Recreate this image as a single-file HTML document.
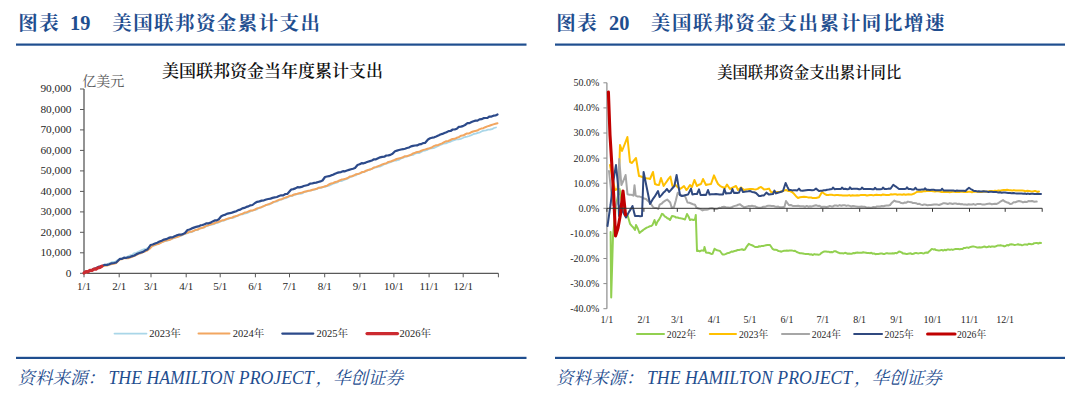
<!DOCTYPE html>
<html lang="zh"><head><meta charset="utf-8"><title>图表</title>
<style>html,body{margin:0;padding:0;background:#fff;width:1080px;height:401px;overflow:hidden}</style>
</head><body>
<svg width="1080" height="401" viewBox="0 0 1080 401" style="position:absolute;left:0;top:0">
<rect width="1080" height="401" fill="#fff"/>
<text x="18.3" y="30" font-family='"Liberation Serif","Noto Serif CJK SC",serif' font-weight="700" font-size="19.5" fill="#1f4e8f" letter-spacing="1.4">图表</text>
<text x="70.0" y="30.3" font-family='"Liberation Serif","Noto Serif CJK SC",serif' font-weight="700" font-size="20.4" fill="#1f4e8f">19</text>
<text x="112.3" y="30" font-family='"Liberation Serif","Noto Serif CJK SC",serif' font-weight="700" font-size="19.5" fill="#1f4e8f" letter-spacing="1.4">美国联邦资金累计支出</text>
<rect x="16" y="43.5" width="510.5" height="2.2" fill="#1f4e8f"/>
<rect x="16" y="356.8" width="510.5" height="2.2" fill="#1f4e8f"/>
<text x="556.2" y="30" font-family='"Liberation Serif","Noto Serif CJK SC",serif' font-weight="700" font-size="19.5" fill="#1f4e8f" letter-spacing="1.6">图表</text>
<text x="609" y="30.3" font-family='"Liberation Serif","Noto Serif CJK SC",serif' font-weight="700" font-size="20.4" fill="#1f4e8f">20</text>
<text x="650.8" y="30" font-family='"Liberation Serif","Noto Serif CJK SC",serif' font-weight="700" font-size="19.5" fill="#1f4e8f" letter-spacing="1.6">美国联邦资金支出累计同比增速</text>
<rect x="555" y="43.5" width="510" height="2.2" fill="#1f4e8f"/>
<rect x="555" y="356.8" width="510" height="2.2" fill="#1f4e8f"/>
<text x="17.5" y="384" font-family='"Liberation Serif","Noto Serif CJK SC",serif' font-style="italic" font-size="17.5" fill="#1f4e8f">资料来源：</text>
<text transform="translate(108.5,384) scale(1,1.09)" font-family='"Liberation Serif","Noto Serif CJK SC",serif' font-style="italic" font-size="17.75" fill="#1f4e8f">THE HAMILTON PROJECT</text>
<text x="315.4" y="384" font-family='"Liberation Serif","Noto Serif CJK SC",serif' font-style="italic" font-size="17.5" fill="#1f4e8f">，华创证券</text>
<text x="556.0" y="384" font-family='"Liberation Serif","Noto Serif CJK SC",serif' font-style="italic" font-size="17.5" fill="#1f4e8f">资料来源：</text>
<text transform="translate(647.0,384) scale(1,1.09)" font-family='"Liberation Serif","Noto Serif CJK SC",serif' font-style="italic" font-size="17.75" fill="#1f4e8f">THE HAMILTON PROJECT</text>
<text x="853.9" y="384" font-family='"Liberation Serif","Noto Serif CJK SC",serif' font-style="italic" font-size="17.5" fill="#1f4e8f">，华创证券</text>
<text x="272.5" y="77" text-anchor="middle" font-family='"Liberation Serif","Noto Serif CJK SC",serif' font-weight="600" font-size="17" fill="#111">美国联邦资金当年度累计支出</text>
<text x="82.3" y="86" font-family='"Liberation Serif","Noto Serif CJK SC",serif' font-size="14" fill="#595959">亿美元</text>
<line x1="84.0" y1="88.98000000000002" x2="84.0" y2="273.3" stroke="#595959" stroke-width="1.3"/>
<line x1="84.0" y1="273.3" x2="498.4" y2="273.3" stroke="#595959" stroke-width="1.3"/>
<line x1="80.0" y1="273.3" x2="84.0" y2="273.3" stroke="#595959" stroke-width="1"/>
<text x="71.5" y="276.6" text-anchor="end" font-family='"Liberation Serif","Noto Serif CJK SC",serif' font-size="11.3" fill="#262626">0</text>
<line x1="80.0" y1="252.8" x2="84.0" y2="252.8" stroke="#595959" stroke-width="1"/>
<text x="71.5" y="256.1" text-anchor="end" font-family='"Liberation Serif","Noto Serif CJK SC",serif' font-size="11.3" fill="#262626">10,000</text>
<line x1="80.0" y1="232.3" x2="84.0" y2="232.3" stroke="#595959" stroke-width="1"/>
<text x="71.5" y="235.6" text-anchor="end" font-family='"Liberation Serif","Noto Serif CJK SC",serif' font-size="11.3" fill="#262626">20,000</text>
<line x1="80.0" y1="211.9" x2="84.0" y2="211.9" stroke="#595959" stroke-width="1"/>
<text x="71.5" y="215.2" text-anchor="end" font-family='"Liberation Serif","Noto Serif CJK SC",serif' font-size="11.3" fill="#262626">30,000</text>
<line x1="80.0" y1="191.4" x2="84.0" y2="191.4" stroke="#595959" stroke-width="1"/>
<text x="71.5" y="194.7" text-anchor="end" font-family='"Liberation Serif","Noto Serif CJK SC",serif' font-size="11.3" fill="#262626">40,000</text>
<line x1="80.0" y1="170.9" x2="84.0" y2="170.9" stroke="#595959" stroke-width="1"/>
<text x="71.5" y="174.2" text-anchor="end" font-family='"Liberation Serif","Noto Serif CJK SC",serif' font-size="11.3" fill="#262626">50,000</text>
<line x1="80.0" y1="150.4" x2="84.0" y2="150.4" stroke="#595959" stroke-width="1"/>
<text x="71.5" y="153.7" text-anchor="end" font-family='"Liberation Serif","Noto Serif CJK SC",serif' font-size="11.3" fill="#262626">60,000</text>
<line x1="80.0" y1="129.9" x2="84.0" y2="129.9" stroke="#595959" stroke-width="1"/>
<text x="71.5" y="133.2" text-anchor="end" font-family='"Liberation Serif","Noto Serif CJK SC",serif' font-size="11.3" fill="#262626">70,000</text>
<line x1="80.0" y1="109.5" x2="84.0" y2="109.5" stroke="#595959" stroke-width="1"/>
<text x="71.5" y="112.8" text-anchor="end" font-family='"Liberation Serif","Noto Serif CJK SC",serif' font-size="11.3" fill="#262626">80,000</text>
<line x1="80.0" y1="89.0" x2="84.0" y2="89.0" stroke="#595959" stroke-width="1"/>
<text x="71.5" y="92.3" text-anchor="end" font-family='"Liberation Serif","Noto Serif CJK SC",serif' font-size="11.3" fill="#262626">90,000</text>
<line x1="84.0" y1="273.3" x2="84.0" y2="277.3" stroke="#595959" stroke-width="1"/>
<text x="84.0" y="290.2" text-anchor="middle" font-family='"Liberation Serif","Noto Serif CJK SC",serif' font-size="11" fill="#262626">1/1</text>
<line x1="119.2" y1="273.3" x2="119.2" y2="277.3" stroke="#595959" stroke-width="1"/>
<text x="119.2" y="290.2" text-anchor="middle" font-family='"Liberation Serif","Noto Serif CJK SC",serif' font-size="11" fill="#262626">2/1</text>
<line x1="151.0" y1="273.3" x2="151.0" y2="277.3" stroke="#595959" stroke-width="1"/>
<text x="151.0" y="290.2" text-anchor="middle" font-family='"Liberation Serif","Noto Serif CJK SC",serif' font-size="11" fill="#262626">3/1</text>
<line x1="186.2" y1="273.3" x2="186.2" y2="277.3" stroke="#595959" stroke-width="1"/>
<text x="186.2" y="290.2" text-anchor="middle" font-family='"Liberation Serif","Noto Serif CJK SC",serif' font-size="11" fill="#262626">4/1</text>
<line x1="220.2" y1="273.3" x2="220.2" y2="277.3" stroke="#595959" stroke-width="1"/>
<text x="220.2" y="290.2" text-anchor="middle" font-family='"Liberation Serif","Noto Serif CJK SC",serif' font-size="11" fill="#262626">5/1</text>
<line x1="255.4" y1="273.3" x2="255.4" y2="277.3" stroke="#595959" stroke-width="1"/>
<text x="255.4" y="290.2" text-anchor="middle" font-family='"Liberation Serif","Noto Serif CJK SC",serif' font-size="11" fill="#262626">6/1</text>
<line x1="289.5" y1="273.3" x2="289.5" y2="277.3" stroke="#595959" stroke-width="1"/>
<text x="289.5" y="290.2" text-anchor="middle" font-family='"Liberation Serif","Noto Serif CJK SC",serif' font-size="11" fill="#262626">7/1</text>
<line x1="324.7" y1="273.3" x2="324.7" y2="277.3" stroke="#595959" stroke-width="1"/>
<text x="324.7" y="290.2" text-anchor="middle" font-family='"Liberation Serif","Noto Serif CJK SC",serif' font-size="11" fill="#262626">8/1</text>
<line x1="359.9" y1="273.3" x2="359.9" y2="277.3" stroke="#595959" stroke-width="1"/>
<text x="359.9" y="290.2" text-anchor="middle" font-family='"Liberation Serif","Noto Serif CJK SC",serif' font-size="11" fill="#262626">9/1</text>
<line x1="393.9" y1="273.3" x2="393.9" y2="277.3" stroke="#595959" stroke-width="1"/>
<text x="393.9" y="290.2" text-anchor="middle" font-family='"Liberation Serif","Noto Serif CJK SC",serif' font-size="11" fill="#262626">10/1</text>
<line x1="429.1" y1="273.3" x2="429.1" y2="277.3" stroke="#595959" stroke-width="1"/>
<text x="429.1" y="290.2" text-anchor="middle" font-family='"Liberation Serif","Noto Serif CJK SC",serif' font-size="11" fill="#262626">11/1</text>
<line x1="463.2" y1="273.3" x2="463.2" y2="277.3" stroke="#595959" stroke-width="1"/>
<text x="463.2" y="290.2" text-anchor="middle" font-family='"Liberation Serif","Noto Serif CJK SC",serif' font-size="11" fill="#262626">12/1</text>
<line x1="498.4" y1="273.3" x2="498.4" y2="277.3" stroke="#595959" stroke-width="1"/>
<polyline points="84.0,273.0 86.1,272.1 88.1,271.2 90.2,271.0 92.2,269.6 94.3,269.4 96.3,268.5 98.4,267.4 100.4,267.1 102.5,266.4 104.7,265.1 106.9,264.6 109.1,263.4 111.2,262.5 113.4,262.0 115.6,261.6 117.8,260.0 120.0,259.5 122.0,258.4 124.1,257.9 126.1,257.4 128.1,256.2 130.2,255.2 132.2,254.9 134.2,253.1 136.2,253.1 138.3,251.7 140.3,250.7 142.3,249.8 144.4,249.2 146.4,248.8 148.4,247.4 150.5,246.9 152.5,246.0 154.6,245.4 156.6,244.4 158.7,243.8 160.7,242.5 162.8,241.8 164.9,241.2 166.9,240.9 169.0,239.9 171.0,239.0 173.1,238.5 175.1,237.6 177.2,236.7 179.3,236.4 181.3,235.6 183.4,234.4 185.4,233.9 187.5,233.1 189.5,232.4 191.6,232.1 193.6,231.2 195.6,230.0 197.7,230.0 199.7,228.4 201.7,228.0 203.8,227.7 205.8,226.3 207.8,226.0 209.8,224.8 211.9,224.7 213.9,224.1 215.9,223.2 218.0,222.8 220.0,221.7 222.1,220.8 224.1,220.5 226.2,219.7 228.2,219.0 230.3,218.2 232.4,217.9 234.4,217.3 236.5,216.1 238.5,215.6 240.6,214.3 242.6,214.3 244.7,213.5 246.8,213.2 248.8,212.3 250.9,211.1 252.9,210.5 255.0,209.9 257.1,209.3 259.1,207.8 261.2,207.4 263.2,206.3 265.3,205.5 267.4,204.6 269.4,204.5 271.5,203.1 273.5,202.4 275.6,201.7 277.6,201.4 279.7,199.8 281.8,199.4 283.8,198.7 285.9,198.2 287.9,197.3 290.0,196.2 292.1,196.0 294.1,194.9 296.2,194.5 298.2,193.8 300.3,193.8 302.4,193.3 304.4,192.0 306.5,191.5 308.5,191.0 310.6,190.4 312.6,190.1 314.7,189.7 316.8,188.8 318.8,188.0 320.9,187.8 322.9,187.2 325.0,186.8 327.0,186.1 329.1,185.7 331.1,184.7 333.2,183.7 335.2,183.1 337.3,182.4 339.3,181.0 341.4,181.1 343.4,180.2 345.5,179.5 347.5,178.7 349.5,177.5 351.6,176.7 353.6,175.7 355.7,175.4 357.7,174.1 359.8,173.3 361.8,172.7 363.9,171.9 365.9,171.3 368.0,170.3 370.0,169.4 372.0,168.8 374.1,168.0 376.1,167.5 378.2,166.4 380.2,166.5 382.3,165.4 384.3,164.2 386.4,163.6 388.4,162.9 390.5,162.1 392.5,161.5 394.6,160.4 396.6,160.5 398.7,159.9 400.7,158.7 402.8,158.0 404.9,157.0 406.9,156.3 409.0,155.8 411.0,155.1 413.1,154.9 415.1,153.6 417.2,152.8 419.3,153.0 421.3,151.9 423.4,150.8 425.4,150.5 427.5,149.8 429.5,148.6 431.6,148.3 433.6,148.1 435.7,147.2 437.7,146.3 439.8,145.1 441.8,144.5 443.8,143.5 445.9,143.4 447.9,142.4 450.0,141.9 452.0,140.9 454.2,140.1 456.3,139.3 458.5,139.3 460.7,138.8 462.8,138.0 465.0,137.0 467.1,136.6 469.3,136.0 471.4,135.2 473.6,134.0 475.7,133.7 477.9,132.8 480.0,132.3 482.0,131.2 484.0,130.6 486.0,130.3 488.0,129.7 490.0,129.5 492.0,129.2 494.0,128.0 496.0,127.5" fill="none" stroke="#a9d6e8" stroke-width="1.8" stroke-linejoin="round" stroke-linecap="round" />
<polyline points="84.0,273.0 86.1,272.6 88.1,271.9 90.2,271.1 92.2,269.9 94.3,269.1 96.3,268.3 98.4,267.5 100.4,266.8 102.5,266.3 104.8,265.8 107.1,265.5 109.3,264.9 111.6,264.1 113.9,263.7 116.2,263.0 120.0,259.3 122.0,259.2 124.0,258.2 126.0,258.3 128.0,258.2 130.0,257.5 132.2,256.8 134.4,255.9 136.6,254.8 138.8,253.6 140.9,253.2 143.1,252.0 145.3,251.4 147.5,250.3 150.0,248.4 152.5,245.8 154.6,245.0 156.6,244.2 158.7,243.9 160.7,242.9 162.8,241.7 164.9,240.9 166.9,240.2 169.0,240.0 171.0,239.2 173.1,237.9 175.1,237.6 177.2,237.0 179.3,236.0 181.3,235.0 183.4,234.4 185.4,233.3 187.5,232.8 189.5,231.7 191.6,231.7 193.6,230.8 195.6,229.9 197.7,229.6 199.7,228.4 201.7,228.1 203.8,227.3 205.8,226.1 207.8,225.4 209.8,224.7 211.9,224.0 213.9,223.5 215.9,222.5 218.0,222.0 220.0,221.3 222.1,220.3 224.1,220.2 226.2,219.1 228.2,218.5 230.3,217.9 232.4,217.5 234.4,216.4 236.5,216.1 238.5,215.1 240.6,214.4 242.6,213.7 244.7,212.6 246.8,212.2 248.8,211.3 250.9,210.5 252.9,210.4 255.0,209.5 257.1,208.4 259.1,207.9 261.2,207.2 263.2,206.3 265.3,205.3 267.4,204.6 269.4,203.9 271.5,203.2 273.5,201.9 275.6,201.4 277.6,200.4 279.7,199.6 281.8,199.2 283.8,198.1 285.9,197.4 287.9,196.7 290.0,195.7 292.1,195.5 294.1,194.5 296.2,194.1 298.2,193.5 300.3,192.9 302.4,192.5 304.4,191.8 306.5,191.3 308.5,190.7 310.6,190.5 312.6,189.7 314.7,189.3 316.8,188.8 318.8,187.7 320.9,187.4 322.9,187.1 325.0,186.2 327.1,185.7 329.2,184.3 331.2,183.5 333.3,183.0 335.4,181.9 337.5,181.5 339.5,180.5 341.6,179.6 343.6,179.3 345.6,178.7 347.7,178.0 349.7,176.6 351.8,176.3 353.8,175.5 355.8,174.3 357.9,174.1 359.9,173.4 361.9,172.1 364.0,171.9 366.0,170.7 368.1,170.0 370.1,169.6 372.1,168.7 374.2,167.4 376.2,166.9 378.2,166.2 380.3,165.3 382.3,164.4 384.4,163.7 386.4,163.3 388.4,161.9 390.5,161.6 392.5,160.8 394.6,160.0 396.6,159.0 398.7,158.5 400.7,158.1 402.8,157.3 404.9,156.2 406.9,156.2 409.0,155.4 411.0,154.8 413.1,153.4 415.1,152.8 417.2,152.0 419.3,151.8 421.3,150.7 423.4,149.9 425.4,149.4 427.5,148.8 429.6,148.3 431.7,147.5 433.8,146.2 435.8,145.3 437.9,145.2 440.0,144.1 442.1,143.4 444.2,142.1 446.2,141.3 448.3,141.0 450.4,140.0 452.5,138.9 454.6,138.8 456.7,137.8 458.8,137.1 460.8,135.8 462.9,135.6 465.0,134.5 467.0,133.4 469.1,133.4 471.1,132.3 473.1,131.5 475.2,131.0 477.2,130.6 479.2,129.4 481.2,128.6 483.3,128.2 485.3,127.2 487.3,126.4 489.4,125.8 491.4,125.0 493.4,124.4 495.5,123.8 497.5,123.2" fill="none" stroke="#f2a660" stroke-width="2.0" stroke-linejoin="round" stroke-linecap="round" />
<polyline points="84.0,273.0 86.1,272.0 88.1,271.7 90.2,270.4 92.2,269.8 94.3,268.7 96.3,268.0 98.4,266.9 100.4,266.4 102.5,265.8 104.8,264.8 107.1,264.9 109.3,264.2 111.6,263.3 113.9,263.0 116.2,262.5 120.0,258.8 122.0,258.9 124.0,257.7 126.0,258.0 128.0,257.3 130.0,257.0 132.2,256.1 134.4,255.5 136.6,254.1 138.8,253.3 140.9,252.5 143.1,251.9 145.3,250.3 147.5,249.5 150.5,245.0 152.7,244.5 155.0,243.5 157.2,242.7 159.5,241.6 161.7,240.7 164.0,239.6 166.2,239.2 168.3,238.1 170.4,237.4 172.5,237.4 174.6,236.2 176.6,235.4 178.7,234.7 180.8,234.7 182.9,234.1 185.0,233.0 187.5,230.0 189.6,229.5 191.8,228.4 193.9,227.6 196.1,226.9 198.2,226.4 200.4,225.4 202.5,225.0 204.5,224.2 206.6,223.3 208.6,223.3 210.7,222.6 212.7,221.4 214.7,220.4 216.8,220.4 218.8,219.2 221.2,216.2 223.3,215.3 225.5,214.6 227.6,213.6 229.8,213.2 231.9,212.6 234.1,211.9 236.2,211.2 238.2,210.1 240.3,209.7 242.3,208.4 244.3,207.9 246.4,206.9 248.4,206.4 250.5,205.3 252.5,205.0 255.0,203.0 257.2,201.8 259.5,201.4 261.7,200.6 264.0,200.3 266.2,199.5 268.3,199.0 270.5,198.6 272.6,197.9 274.7,197.4 276.9,197.0 279.0,196.0 281.1,195.3 283.2,195.4 285.4,194.0 287.5,193.8 291.2,189.5 293.3,189.1 295.4,188.4 297.5,187.2 299.5,187.4 301.6,186.9 303.7,186.0 305.8,185.5 307.9,185.0 310.0,183.7 312.1,183.5 314.2,182.9 316.2,182.6 318.3,182.0 320.4,181.4 322.5,180.5 325.0,177.0 327.0,176.5 329.0,176.2 331.0,175.4 333.0,174.8 335.0,173.7 337.0,172.9 339.0,172.4 341.0,172.1 343.0,171.2 345.0,171.3 347.0,170.5 349.0,169.9 351.0,169.3 353.0,168.8 355.0,168.0 357.5,165.0 359.6,164.3 361.6,163.2 363.7,163.3 365.7,162.6 367.8,161.7 369.9,161.1 371.9,160.5 374.0,159.3 376.0,159.3 378.1,158.2 380.1,157.3 382.2,156.9 384.3,156.7 386.3,155.5 388.4,155.4 390.4,154.9 392.5,153.8 395.0,151.2 397.0,150.6 399.0,150.0 401.0,149.5 403.0,149.2 405.0,148.7 407.0,148.0 409.0,147.5 411.0,146.4 413.0,145.9 415.0,145.5 417.0,145.4 419.0,144.4 421.0,144.2 423.0,143.1 425.0,143.0 428.0,139.5 430.1,138.3 432.1,137.7 434.2,137.3 436.2,136.5 438.3,135.6 440.3,134.5 442.4,133.9 444.4,133.0 446.5,132.2 448.6,131.1 450.6,131.0 452.7,129.5 454.7,129.5 456.8,128.7 458.8,126.9 460.9,126.6 462.9,126.1 465.0,125.0 467.5,123.2 469.5,123.1 471.5,122.0 473.5,121.2 475.5,120.6 477.5,120.7 479.5,119.4 481.5,119.2 483.5,118.2 485.5,118.0 487.5,117.9 489.5,116.5 491.5,116.6 493.5,115.7 495.5,115.5 497.5,114.5" fill="none" stroke="#2c4a8a" stroke-width="2.2" stroke-linejoin="round" stroke-linecap="round" />
<polyline points="84.0,273.0 86.0,271.5 88.0,271.8 90.0,270.3 92.0,270.5 94.0,269.0 96.0,269.2 98.0,267.8 100.0,267.5 102.0,266.2" fill="none" stroke="#cc2a30" stroke-width="3.2" stroke-linejoin="round" stroke-linecap="round" />
<line x1="114.5" y1="333.6" x2="146.5" y2="333.6" stroke="#a9d6e8" stroke-width="1.8" stroke-linecap="round"/>
<text x="149.3" y="337.3" font-family='"Liberation Serif","Noto Serif CJK SC",serif' font-size="10.5" fill="#262626">2023年</text>
<line x1="198.5" y1="333.6" x2="229.5" y2="333.6" stroke="#f2a660" stroke-width="2.0" stroke-linecap="round"/>
<text x="232.8" y="337.3" font-family='"Liberation Serif","Noto Serif CJK SC",serif' font-size="10.5" fill="#262626">2024年</text>
<line x1="282.3" y1="333.6" x2="313.3" y2="333.6" stroke="#2c4a8a" stroke-width="2.2" stroke-linecap="round"/>
<text x="316.5" y="337.3" font-family='"Liberation Serif","Noto Serif CJK SC",serif' font-size="10.5" fill="#262626">2025年</text>
<line x1="367" y1="333.6" x2="397.5" y2="333.6" stroke="#cc2a30" stroke-width="3.2" stroke-linecap="round"/>
<text x="399.6" y="337.3" font-family='"Liberation Serif","Noto Serif CJK SC",serif' font-size="10.5" fill="#262626">2026年</text>
<text x="809.2" y="78" text-anchor="middle" font-family='"Liberation Serif","Noto Serif CJK SC",serif' font-weight="600" font-size="15.35" fill="#111">美国联邦资金支出累计同比</text>
<line x1="606.9" y1="82.8" x2="606.9" y2="308.7" stroke="#8c8c8c" stroke-width="1.2"/>
<line x1="603.4" y1="82.8" x2="606.9" y2="82.8" stroke="#8c8c8c" stroke-width="1"/>
<text x="599.3" y="86.2" text-anchor="end" font-family='"Liberation Serif","Noto Serif CJK SC",serif' font-size="10" fill="#262626">50.0%</text>
<line x1="603.4" y1="107.9" x2="606.9" y2="107.9" stroke="#8c8c8c" stroke-width="1"/>
<text x="599.3" y="111.3" text-anchor="end" font-family='"Liberation Serif","Noto Serif CJK SC",serif' font-size="10" fill="#262626">40.0%</text>
<line x1="603.4" y1="133.0" x2="606.9" y2="133.0" stroke="#8c8c8c" stroke-width="1"/>
<text x="599.3" y="136.4" text-anchor="end" font-family='"Liberation Serif","Noto Serif CJK SC",serif' font-size="10" fill="#262626">30.0%</text>
<line x1="603.4" y1="158.1" x2="606.9" y2="158.1" stroke="#8c8c8c" stroke-width="1"/>
<text x="599.3" y="161.5" text-anchor="end" font-family='"Liberation Serif","Noto Serif CJK SC",serif' font-size="10" fill="#262626">20.0%</text>
<line x1="603.4" y1="183.2" x2="606.9" y2="183.2" stroke="#8c8c8c" stroke-width="1"/>
<text x="599.3" y="186.6" text-anchor="end" font-family='"Liberation Serif","Noto Serif CJK SC",serif' font-size="10" fill="#262626">10.0%</text>
<line x1="603.4" y1="208.3" x2="606.9" y2="208.3" stroke="#8c8c8c" stroke-width="1"/>
<text x="599.3" y="211.7" text-anchor="end" font-family='"Liberation Serif","Noto Serif CJK SC",serif' font-size="10" fill="#262626">0.0%</text>
<line x1="603.4" y1="233.4" x2="606.9" y2="233.4" stroke="#8c8c8c" stroke-width="1"/>
<text x="599.3" y="236.8" text-anchor="end" font-family='"Liberation Serif","Noto Serif CJK SC",serif' font-size="10" fill="#262626">-10.0%</text>
<line x1="603.4" y1="258.5" x2="606.9" y2="258.5" stroke="#8c8c8c" stroke-width="1"/>
<text x="599.3" y="261.9" text-anchor="end" font-family='"Liberation Serif","Noto Serif CJK SC",serif' font-size="10" fill="#262626">-20.0%</text>
<line x1="603.4" y1="283.6" x2="606.9" y2="283.6" stroke="#8c8c8c" stroke-width="1"/>
<text x="599.3" y="287.0" text-anchor="end" font-family='"Liberation Serif","Noto Serif CJK SC",serif' font-size="10" fill="#262626">-30.0%</text>
<line x1="603.4" y1="308.7" x2="606.9" y2="308.7" stroke="#8c8c8c" stroke-width="1"/>
<text x="599.3" y="312.1" text-anchor="end" font-family='"Liberation Serif","Noto Serif CJK SC",serif' font-size="10" fill="#262626">-40.0%</text>
<polyline points="610.6,232.0 611.2,297.5 613.0,236.0 614.5,220.7 616.0,205.0 617.8,196.7 619.6,189.0 622.0,203.0 624.5,212.0 626.0,213.9 627.5,215.0 630.0,223.8 631.7,225.9 633.3,227.5 635.0,230.0 636.0,225.0 637.8,228.5 639.5,233.0 640.9,231.8 642.4,230.6 643.8,229.5 645.2,228.6 646.7,227.6 648.1,227.1 649.6,226.3 651.0,226.1 652.5,225.0 654.5,220.0 656.0,225.0 657.5,221.7 659.0,219.7 660.5,216.9 662.0,213.8 663.3,214.5 664.7,216.3 666.0,217.1 667.3,218.3 668.7,218.8 670.0,220.0 672.0,216.0 673.4,216.2 674.8,216.6 676.1,217.6 677.5,217.5 679.0,218.0 680.5,218.2 682.0,218.6 683.5,218.9 685.0,219.5 687.0,214.0 688.5,216.5 690.0,220.0 691.7,219.4 693.3,220.0 695.0,219.5 695.8,215.0 697.0,251.0 698.4,250.7 699.7,251.4 701.1,250.6 702.4,250.6 703.8,250.8 704.5,247.0 706.0,252.5 707.3,252.8 708.6,252.7 709.9,253.2 711.2,254.0 712.5,253.8 714.5,248.8 715.9,249.7 717.2,250.2 718.6,250.6 720.0,251.0 722.5,254.5 724.0,254.5 725.5,254.1 727.0,253.3 728.5,253.1 730.0,252.5 731.5,251.5 733.0,251.7 734.5,251.0 736.0,250.8 737.5,250.0 739.0,250.0 740.5,249.6 742.0,249.2 743.5,250.0 745.0,249.5 746.9,246.3 748.8,243.8 750.3,244.6 751.9,245.2 753.5,246.0 755.0,247.0 756.4,247.1 757.7,247.1 759.1,246.2 760.5,246.4 761.8,245.9 763.2,246.0 764.5,245.6 765.9,245.2 767.3,245.0 768.6,244.9 770.0,245.0 772.5,248.8 774.0,249.7 775.5,249.8 777.0,250.0 778.5,251.1 780.0,251.2 781.4,251.7 782.7,251.1 784.1,250.7 785.5,250.7 786.8,250.6 788.2,250.8 789.5,250.5 790.9,250.6 792.3,250.6 793.6,250.9 795.0,250.8 796.7,252.0 798.3,252.6 800.0,253.2 801.4,253.3 802.9,253.5 804.3,253.8 805.7,253.9 807.1,254.0 808.6,254.0 810.0,254.6 811.4,254.3 812.9,255.0 814.3,254.1 815.7,254.5 817.1,254.6 818.6,254.8 820.0,254.4 821.6,252.8 823.3,251.8 824.6,251.6 826.0,251.5 827.3,251.7 828.7,251.7 830.0,252.3 831.3,252.1 832.7,252.2 834.0,251.3 835.4,251.3 836.7,251.8 838.1,252.5 839.6,253.2 841.0,253.3 842.3,253.3 843.7,253.4 845.0,252.8 846.4,253.2 847.7,253.7 849.0,253.6 850.4,253.7 851.7,253.8 853.1,253.0 854.4,253.3 855.9,252.7 857.4,252.6 858.8,252.8 860.3,252.7 861.8,252.8 863.3,252.2 864.6,252.6 866.0,252.7 867.3,253.0 868.7,252.9 870.0,253.2 871.3,252.8 872.7,253.7 874.0,253.4 875.4,254.2 876.7,254.0 878.0,254.1 879.4,253.7 880.7,253.5 882.0,253.6 883.4,253.9 884.7,253.9 886.0,253.3 887.4,253.2 888.7,253.6 890.0,253.6 891.4,253.4 892.7,253.2 894.0,253.5 895.4,252.9 896.7,253.3 899.0,251.6 900.3,251.8 901.6,252.4 902.9,253.4 904.2,253.5 905.5,253.8 906.8,254.1 908.1,253.7 909.4,253.4 910.7,253.3 912.1,254.0 913.4,253.7 914.7,253.2 916.0,252.9 917.3,253.3 918.6,253.4 919.9,253.1 921.2,252.9 922.6,253.3 923.9,253.5 925.2,252.7 926.5,252.5 927.8,252.9 929.1,251.4 930.5,250.2 931.8,248.9 933.2,249.4 934.7,249.2 936.1,250.1 937.6,250.3 939.0,250.4 940.4,250.3 941.8,249.9 943.1,250.6 944.5,249.8 945.9,250.3 947.2,249.6 948.6,249.5 950.0,249.9 951.4,249.4 952.8,249.9 954.1,249.4 955.5,249.0 956.9,248.9 958.2,249.0 959.6,249.2 961.0,248.9 962.5,249.0 964.0,247.9 965.5,247.9 967.0,247.4 968.5,247.9 970.0,247.1 971.4,246.7 972.7,246.6 974.1,246.6 975.4,246.9 976.8,247.4 978.1,247.4 979.5,247.2 980.8,247.4 982.2,247.3 983.6,246.7 984.9,246.5 986.3,247.3 987.6,247.1 989.0,246.3 990.3,246.9 991.7,246.6 993.0,246.6 994.4,246.7 995.9,246.2 997.5,245.6 999.0,245.6 1000.3,245.2 1001.6,245.5 1002.9,245.7 1004.2,246.4 1005.5,246.0 1007.0,245.1 1008.5,245.4 1010.0,244.4 1011.3,244.2 1012.7,244.4 1014.0,244.9 1015.3,244.9 1016.6,244.6 1018.0,244.2 1019.3,244.7 1020.6,244.7 1022.0,245.3 1023.3,244.9 1024.7,244.4 1026.0,244.5 1027.4,244.8 1028.7,243.8 1030.1,244.0 1031.5,244.3 1032.8,244.1 1034.2,243.2 1035.6,243.1 1036.9,242.9 1038.3,243.6 1039.6,242.8 1041.0,242.9" fill="none" stroke="#92d050" stroke-width="2.0" stroke-linejoin="round" stroke-linecap="round" />
<polyline points="610.0,165.0 612.0,176.0 615.0,190.0 617.5,189.0 619.5,161.0 620.0,145.0 622.0,151.0 623.8,146.5 625.6,141.9 627.4,137.0 630.0,162.0 632.0,163.0 634.0,160.4 636.0,158.0 639.0,176.0 641.0,176.5 643.0,177.4 644.8,178.1 646.5,178.3 648.2,178.4 650.0,179.0 653.0,172.0 655.0,184.0 657.0,184.7 659.0,185.0 661.0,178.0 663.6,186.0 665.3,183.5 667.0,181.1 668.7,178.6 670.4,176.6 672.4,186.0 674.0,185.7 675.6,185.0 677.8,187.3 680.0,189.0 682.0,187.6 684.0,186.0 686.4,190.0 688.2,187.8 690.0,185.0 692.0,187.0 694.4,180.0 697.0,186.0 699.0,184.7 701.0,184.0 703.0,179.0 706.0,185.0 707.7,184.5 709.3,184.3 711.0,184.0 714.0,175.4 716.0,180.0 718.0,184.0 720.0,185.8 722.0,187.0 725.0,188.0 727.0,184.6 730.0,189.0 733.0,187.4 736.0,186.0 738.0,190.0 741.0,187.4 744.0,190.0 746.0,189.6 748.0,189.2 750.0,189.0 752.0,189.1 754.0,189.3 756.0,189.4 757.7,188.9 759.3,187.6 761.0,187.0 764.0,189.4 765.7,189.3 767.3,189.0 769.0,188.6 771.0,192.0 772.8,192.2 774.6,192.2 776.4,192.1 778.2,191.9 780.0,192.0 782.0,191.2 784.0,190.6 786.0,190.0 788.0,190.9 790.0,191.0 792.0,192.0 794.0,193.8 796.0,196.2 798.0,198.0 800.0,197.3 802.0,197.0 804.0,196.8 806.0,196.9 808.0,197.4 809.6,197.6 811.2,197.5 812.8,198.1 814.4,198.1 816.0,198.0 819.0,197.3 822.0,192.0 824.4,193.8 826.7,195.0 828.3,194.9 829.9,194.8 831.5,194.8 833.1,195.1 834.7,195.3 836.3,195.1 837.9,195.0 839.5,195.2 841.2,195.3 842.8,195.4 844.4,195.5 846.0,195.6 847.6,195.5 849.2,195.1 850.8,195.7 852.4,195.3 854.0,195.5 855.6,195.5 857.2,195.3 858.8,195.5 860.4,195.1 862.0,195.1 863.6,195.1 865.2,195.0 866.9,195.5 868.5,195.2 870.1,195.0 871.7,195.0 873.3,195.4 874.9,195.0 876.5,194.8 878.1,195.1 879.7,195.0 881.3,195.2 882.9,194.5 884.5,194.7 886.1,194.9 887.8,194.9 889.4,194.9 891.0,194.3 892.6,194.4 894.2,194.3 895.8,194.3 897.4,194.8 899.0,194.4 900.6,194.5 902.2,194.7 903.9,194.3 905.5,194.7 907.1,194.4 908.8,194.2 910.4,194.6 912.0,194.4 914.4,193.5 916.7,192.0 918.4,191.6 920.0,191.8 921.7,191.7 923.4,191.3 925.0,191.3 926.7,191.0 928.3,190.9 930.0,191.0 931.6,191.0 933.2,191.3 934.9,191.5 936.5,191.3 938.1,191.3 939.8,191.6 941.4,192.0 943.0,192.0 944.6,191.8 946.2,191.9 947.8,191.8 949.4,192.2 951.0,192.0 952.6,191.7 954.2,191.7 955.9,191.9 957.5,192.0 959.1,192.1 960.7,191.7 962.3,191.8 963.9,192.1 965.5,192.0 967.1,191.9 968.7,191.8 970.3,191.8 971.9,192.2 973.5,191.7 975.1,191.8 976.8,191.7 978.4,191.7 980.0,191.9 981.6,192.0 983.2,191.5 984.8,191.4 986.4,191.7 988.0,191.5 989.8,191.1 991.5,190.9 993.2,191.3 995.0,190.8 996.8,191.0 998.5,190.5 1000.2,190.7 1002.0,190.3 1003.8,189.9 1005.5,190.0 1007.2,189.7 1008.9,190.2 1010.5,190.3 1012.2,190.6 1013.9,190.1 1015.5,190.5 1017.2,190.4 1018.9,190.6 1020.6,190.4 1022.2,190.6 1023.9,190.8 1025.6,191.2 1027.3,190.7 1029.0,191.0 1030.6,191.3 1032.3,191.5 1034.0,191.1 1035.7,191.1 1037.3,191.7 1039.0,191.5" fill="none" stroke="#ffc000" stroke-width="2.0" stroke-linejoin="round" stroke-linecap="round" />
<polyline points="609.0,171.0 611.0,190.0 613.0,205.0 616.0,206.0 618.3,200.0 619.2,159.0 621.4,185.0 623.5,180.5 625.6,175.0 627.5,194.2 629.5,194.7 631.5,194.8 633.5,195.7 634.5,185.2 635.7,195.7 637.7,196.6 639.7,196.6 641.7,197.2 643.9,198.5 646.0,199.0 648.0,200.9 650.0,202.5 653.0,207.0 654.7,208.0 656.5,208.0 658.2,209.0 659.7,204.7 661.6,203.7 663.5,201.8 665.3,200.7 667.2,199.5 670.2,202.5 671.7,207.7 674.0,207.0 675.9,200.2 677.7,192.7 680.0,195.0 681.7,195.8 683.5,195.7 685.2,196.5 687.5,202.5 689.4,202.8 691.2,203.5 693.1,204.2 695.0,204.7 696.5,207.7 698.5,208.5 700.5,209.1 702.5,210.4 704.4,209.7 706.2,209.7 708.1,209.4 710.0,208.5 712.0,208.2 714.0,208.9 716.0,209.0 717.6,208.8 719.2,207.7 720.8,208.0 722.4,206.9 724.0,206.8 726.0,207.2 728.0,207.5 730.0,207.8 731.7,207.3 733.3,206.4 735.0,205.9 736.7,205.5 738.3,204.7 740.0,204.2 742.0,205.9 744.0,207.3 745.6,206.9 747.2,206.6 748.8,205.9 750.4,206.2 752.0,205.8 753.6,206.2 755.2,206.3 756.8,207.3 758.4,207.7 760.0,207.8 761.7,207.4 763.3,206.8 765.0,206.8 766.7,206.1 768.3,205.8 770.0,205.8 771.7,206.0 773.3,205.9 775.0,206.5 776.7,206.8 778.3,206.6 780.0,207.3 782.2,207.2 784.5,206.8 786.0,201.0 789.0,205.3 790.8,205.0 792.7,205.9 794.5,206.1 796.3,206.0 798.2,205.7 800.0,206.3 801.7,206.3 803.3,206.2 805.0,206.8 806.7,205.9 808.3,206.7 810.0,206.3 812.0,206.4 814.0,205.8 816.0,205.2 817.8,205.9 819.5,205.7 821.2,206.9 823.0,206.8 824.7,206.7 826.3,207.0 828.0,206.8 829.7,205.9 831.3,206.4 833.0,206.4 834.7,205.4 836.3,205.6 838.0,205.9 839.7,205.1 841.3,205.7 843.0,205.2 844.7,205.2 846.3,205.9 848.0,205.4 849.7,205.9 851.3,206.5 853.0,206.0 854.7,206.2 856.3,206.6 858.0,206.8 859.8,206.7 861.5,206.5 863.2,206.7 865.0,206.8 866.8,207.7 868.5,207.5 870.2,207.8 872.0,207.5 873.6,206.9 875.3,207.3 876.9,206.4 878.5,206.6 880.2,206.5 881.8,206.0 883.5,206.3 885.1,205.7 886.7,205.5 888.4,205.6 890.0,205.0 892.2,202.4 894.4,200.6 896.1,201.6 897.8,201.8 899.6,202.1 901.3,203.1 903.0,203.3 904.7,202.5 906.3,202.7 908.0,201.6 909.6,202.1 911.2,202.2 912.9,203.0 914.5,203.0 916.1,203.2 917.8,204.1 919.4,203.8 921.0,204.6 922.6,205.0 924.3,204.4 925.9,204.8 927.5,205.2 929.2,204.9 930.8,205.0 932.5,204.7 934.1,204.4 935.7,204.5 937.4,204.6 939.0,205.0 941.0,204.3 943.0,203.3 944.6,203.3 946.2,203.5 947.8,204.0 949.4,203.3 951.0,203.5 952.6,204.0 954.2,203.5 955.9,203.5 957.5,204.0 959.1,203.8 960.7,204.2 962.3,204.1 963.9,204.6 965.5,204.6 967.1,204.7 968.8,204.2 970.4,204.6 972.1,204.4 973.7,204.1 975.4,204.8 977.0,204.1 978.6,204.0 980.3,203.9 981.9,204.4 983.6,204.6 985.2,204.4 986.8,204.0 988.5,203.8 990.1,203.6 991.8,204.2 993.4,204.0 995.1,203.8 996.7,203.9 998.8,202.8 1000.9,201.3 1003.0,200.1 1004.8,201.5 1006.5,202.2 1008.2,202.7 1010.0,203.9 1011.8,203.7 1013.6,202.3 1015.4,202.2 1017.2,201.5 1019.0,201.0 1021.0,201.4 1023.0,202.4 1024.8,201.7 1026.6,202.1 1028.4,201.1 1030.2,201.3 1032.0,201.0 1034.3,201.7 1036.7,201.6" fill="none" stroke="#a6a6a6" stroke-width="2.0" stroke-linejoin="round" stroke-linecap="round" />
<polyline points="607.5,226.0 610.5,205.0 613.5,180.0 616.0,165.0 618.0,185.0 619.0,216.0 621.0,204.0 623.0,212.0 626.0,217.5 627.6,214.4 629.2,211.6 630.9,208.9 632.5,206.0 635.0,216.0 636.8,216.0 638.5,216.1 640.2,216.2 642.0,216.0 643.6,172.0 645.7,182.5 647.9,193.2 650.0,204.0 651.6,201.3 653.2,198.6 654.8,196.4 656.4,193.7 658.0,191.0 659.6,197.0 661.5,195.1 663.3,192.8 665.1,191.2 667.0,189.0 669.0,192.0 670.8,190.1 672.6,188.0 674.4,186.0 676.6,175.0 678.3,185.1 680.0,195.0 682.0,196.0 684.0,195.5 686.0,194.9 688.0,194.6 691.0,188.6 692.4,194.6 694.7,194.1 697.0,194.0 699.0,189.4 700.6,195.0 702.4,194.9 704.2,194.8 706.0,195.0 708.0,190.0 709.6,194.6 711.7,194.3 713.9,194.3 716.0,194.0 717.8,194.2 719.5,194.5 721.2,194.6 723.0,194.6 724.4,189.0 726.0,193.6 727.7,193.3 729.3,193.2 731.0,193.0 732.4,189.0 734.0,193.0 735.7,192.8 737.3,192.9 739.0,192.6 741.0,188.0 743.0,192.0 744.8,191.8 746.5,191.4 748.2,191.3 750.0,191.0 752.0,191.9 754.0,192.2 756.0,193.0 759.0,196.0 760.7,196.0 762.3,195.4 764.0,195.4 766.4,192.6 769.0,194.6 771.0,194.2 773.0,194.0 774.4,190.6 776.0,193.4 777.8,192.7 779.5,192.3 781.2,191.8 783.0,191.0 785.6,183.0 787.3,186.6 789.0,190.0 790.6,190.0 792.2,190.4 793.8,190.3 795.4,190.3 797.0,190.6 799.0,188.6 800.6,190.6 802.5,190.7 804.3,190.4 806.1,190.2 808.0,190.0 810.0,190.1 812.0,190.2 814.0,190.0 816.0,188.6 819.0,191.0 820.6,190.7 822.2,190.7 823.9,190.3 825.5,190.2 827.1,189.7 828.8,189.6 830.4,189.3 832.0,189.0 833.0,187.5 834.5,189.2 836.1,189.1 837.8,189.0 839.4,189.1 841.0,189.0 842.0,187.5 843.5,189.0 845.3,188.8 847.2,189.2 849.0,189.0 850.0,187.3 851.5,189.0 853.4,188.8 855.3,188.8 857.2,188.8 859.1,189.2 861.0,189.0 862.0,187.5 863.5,189.0 865.2,189.0 867.0,188.9 868.8,188.9 870.5,188.9 872.2,189.3 874.0,189.2 875.0,187.8 876.5,189.2 878.3,189.2 880.2,189.2 882.0,189.0 883.0,187.5 884.5,189.0 886.5,189.1 888.5,188.6 890.5,188.8 893.3,184.8 895.2,186.2 897.1,187.5 899.0,189.0 900.8,189.1 902.5,189.1 904.2,189.0 906.0,188.8 907.0,187.3 908.5,189.0 910.3,188.9 912.2,189.5 914.0,189.4 915.5,187.8 917.0,189.6 918.8,189.8 920.5,189.8 922.2,189.4 924.0,189.6 925.0,188.3 926.5,189.8 928.2,189.8 930.0,190.0 931.8,189.8 933.7,189.8 935.5,190.3 937.3,190.3 939.2,190.2 941.0,190.2 942.0,188.7 943.5,190.4 945.1,190.6 946.8,190.6 948.4,190.4 950.0,190.6 951.7,190.4 953.4,190.5 955.2,190.9 956.9,190.6 958.6,190.7 960.3,190.8 962.1,190.7 963.8,190.8 965.5,191.0 967.2,189.3 969.0,187.8 970.7,189.0 972.3,189.9 974.0,191.0 975.6,191.0 977.2,191.4 978.8,191.2 980.4,191.5 982.0,191.5 983.6,191.2 985.2,191.5 986.8,191.6 988.4,191.9 990.0,191.8 991.7,191.8 993.3,192.1 995.0,192.1 996.7,192.1 998.3,192.5 1000.0,192.2 1001.7,192.7 1003.3,192.4 1005.0,192.5 1006.7,192.7 1008.3,193.0 1010.0,193.0 1011.7,193.3 1013.3,193.0 1015.0,193.3 1016.7,193.4 1018.3,193.6 1020.0,193.6 1021.6,193.5 1023.2,193.7 1024.8,193.6 1026.5,193.9 1028.1,193.6 1029.7,194.0 1031.3,193.7 1032.9,193.7 1034.5,194.0 1036.2,193.9 1037.8,193.7 1039.4,194.0 1041.0,194.0" fill="none" stroke="#30497f" stroke-width="2.0" stroke-linejoin="round" stroke-linecap="round" />
<polyline points="608.4,92.0 610.0,135.0 613.7,195.0 615.5,236.0 618.0,228.0 620.5,214.0 622.0,200.0 623.0,191.0 624.5,205.0 625.5,215.0" fill="none" stroke="#c00000" stroke-width="3.1" stroke-linejoin="round" stroke-linecap="round" />
<line x1="606.9" y1="208.3" x2="1042.2" y2="208.3" stroke="#333" stroke-width="1"/>
<line x1="606.9" y1="208.3" x2="606.9" y2="211.8" stroke="#333" stroke-width="1"/>
<text x="606.9" y="323.0" text-anchor="middle" font-family='"Liberation Serif","Noto Serif CJK SC",serif' font-size="10" fill="#262626">1/1</text>
<line x1="643.9" y1="208.3" x2="643.9" y2="211.8" stroke="#333" stroke-width="1"/>
<text x="643.9" y="323.0" text-anchor="middle" font-family='"Liberation Serif","Noto Serif CJK SC",serif' font-size="10" fill="#262626">2/1</text>
<line x1="677.3" y1="208.3" x2="677.3" y2="211.8" stroke="#333" stroke-width="1"/>
<text x="677.3" y="323.0" text-anchor="middle" font-family='"Liberation Serif","Noto Serif CJK SC",serif' font-size="10" fill="#262626">3/1</text>
<line x1="714.2" y1="208.3" x2="714.2" y2="211.8" stroke="#333" stroke-width="1"/>
<text x="714.2" y="323.0" text-anchor="middle" font-family='"Liberation Serif","Noto Serif CJK SC",serif' font-size="10" fill="#262626">4/1</text>
<line x1="750.0" y1="208.3" x2="750.0" y2="211.8" stroke="#333" stroke-width="1"/>
<text x="750.0" y="323.0" text-anchor="middle" font-family='"Liberation Serif","Noto Serif CJK SC",serif' font-size="10" fill="#262626">5/1</text>
<line x1="787.0" y1="208.3" x2="787.0" y2="211.8" stroke="#333" stroke-width="1"/>
<text x="787.0" y="323.0" text-anchor="middle" font-family='"Liberation Serif","Noto Serif CJK SC",serif' font-size="10" fill="#262626">6/1</text>
<line x1="822.8" y1="208.3" x2="822.8" y2="211.8" stroke="#333" stroke-width="1"/>
<text x="822.8" y="323.0" text-anchor="middle" font-family='"Liberation Serif","Noto Serif CJK SC",serif' font-size="10" fill="#262626">7/1</text>
<line x1="859.7" y1="208.3" x2="859.7" y2="211.8" stroke="#333" stroke-width="1"/>
<text x="859.7" y="323.0" text-anchor="middle" font-family='"Liberation Serif","Noto Serif CJK SC",serif' font-size="10" fill="#262626">8/1</text>
<line x1="896.7" y1="208.3" x2="896.7" y2="211.8" stroke="#333" stroke-width="1"/>
<text x="896.7" y="323.0" text-anchor="middle" font-family='"Liberation Serif","Noto Serif CJK SC",serif' font-size="10" fill="#262626">9/1</text>
<line x1="932.5" y1="208.3" x2="932.5" y2="211.8" stroke="#333" stroke-width="1"/>
<text x="932.5" y="323.0" text-anchor="middle" font-family='"Liberation Serif","Noto Serif CJK SC",serif' font-size="10" fill="#262626">10/1</text>
<line x1="969.5" y1="208.3" x2="969.5" y2="211.8" stroke="#333" stroke-width="1"/>
<text x="969.5" y="323.0" text-anchor="middle" font-family='"Liberation Serif","Noto Serif CJK SC",serif' font-size="10" fill="#262626">11/1</text>
<line x1="1005.2" y1="208.3" x2="1005.2" y2="211.8" stroke="#333" stroke-width="1"/>
<text x="1005.2" y="323.0" text-anchor="middle" font-family='"Liberation Serif","Noto Serif CJK SC",serif' font-size="10" fill="#262626">12/1</text>
<line x1="1042.2" y1="208.3" x2="1042.2" y2="211.8" stroke="#333" stroke-width="1"/>
<line x1="637" y1="334.0" x2="664" y2="334.0" stroke="#92d050" stroke-width="2.0" stroke-linecap="round"/>
<text x="666.8" y="337.7" font-family='"Liberation Serif","Noto Serif CJK SC",serif' font-size="9.7" fill="#262626">2022年</text>
<line x1="709.8" y1="334.0" x2="736" y2="334.0" stroke="#ffc000" stroke-width="2.0" stroke-linecap="round"/>
<text x="739" y="337.7" font-family='"Liberation Serif","Noto Serif CJK SC",serif' font-size="9.7" fill="#262626">2023年</text>
<line x1="782" y1="334.0" x2="809.2" y2="334.0" stroke="#a6a6a6" stroke-width="2.0" stroke-linecap="round"/>
<text x="811.8" y="337.7" font-family='"Liberation Serif","Noto Serif CJK SC",serif' font-size="9.7" fill="#262626">2024年</text>
<line x1="854.2" y1="334.0" x2="882" y2="334.0" stroke="#30497f" stroke-width="2.1" stroke-linecap="round"/>
<text x="884.6" y="337.7" font-family='"Liberation Serif","Noto Serif CJK SC",serif' font-size="9.7" fill="#262626">2025年</text>
<line x1="927.6" y1="334.0" x2="955" y2="334.0" stroke="#c00000" stroke-width="3.1" stroke-linecap="round"/>
<text x="957" y="337.7" font-family='"Liberation Serif","Noto Serif CJK SC",serif' font-size="9.7" fill="#262626">2026年</text>
</svg>
</body></html>
